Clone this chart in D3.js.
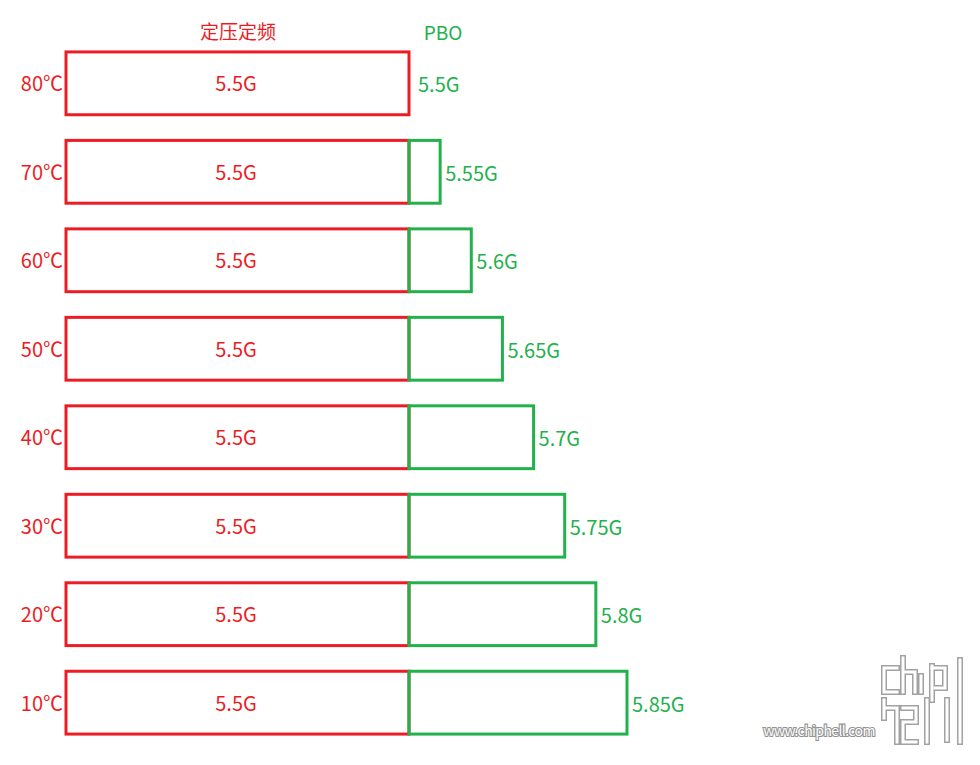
<!DOCTYPE html>
<html><head><meta charset="utf-8">
<script src="https://cdn.jsdelivr.net/npm/d3@7"></script>
<style>body{margin:0;background:#fff}svg{display:block}text{font-family:"Microsoft YaHei","Noto Sans CJK SC","Noto Sans",sans-serif}</style>
</head><body><svg id="c" width="980" height="765"></svg>
<script>
const temps = ["80℃","70℃","60℃","50℃","40℃","30℃","20℃","10℃"];
const fixedFreq = [5.5,5.5,5.5,5.5,5.5,5.5,5.5,5.5];
const pboFreq = [5.5,5.55,5.6,5.65,5.7,5.75,5.8,5.85];
const seriesNames = ["定压定频","PBO"];

const RED="#ED1C24", GREEN="#22B14C";
const svg=d3.select("#c");
const y=d3.scaleBand().domain(temps).range([36,750]).paddingInner(0.29).paddingOuter(0.18);
const xBase=d3.scaleLinear().domain([0,5.5]).range([66,409]);
const xExtra=d3.scaleLinear().domain([5.5,5.85]).range([409,627]);

svg.append("text").attr("x",238).attr("y",39).attr("text-anchor","middle").attr("fill",RED).attr("font-size",19).text(seriesNames[0]);
svg.append("text").attr("x",443).attr("y",40).attr("text-anchor","middle").attr("fill",GREEN).attr("font-size",19).text(seriesNames[1]);

const rows=svg.selectAll("g.row").data(temps.map((t,i)=>({t,f:fixedFreq[i],p:pboFreq[i]}))).join("g").attr("class","row");
rows.append("rect").attr("x",xBase(0)).attr("y",d=>y(d.t)).attr("width",d=>xBase(d.f)-xBase(0)).attr("height",y.bandwidth())
  .attr("fill","none").attr("stroke",RED).attr("stroke-width",3);
rows.filter(d=>d.p>d.f).append("rect").attr("x",d=>xExtra(d.f)).attr("y",d=>y(d.t)).attr("width",d=>xExtra(d.p)-xExtra(d.f)).attr("height",y.bandwidth())
  .attr("fill","none").attr("stroke",GREEN).attr("stroke-width",3);
rows.append("text").attr("x",236).attr("y",d=>y(d.t)+y.bandwidth()/2+8).attr("text-anchor","middle").attr("fill",RED).attr("font-size",20).text(d=>d.f+"G");
rows.append("text").attr("x",63).attr("y",d=>y(d.t)+y.bandwidth()/2+8).attr("text-anchor","end").attr("fill",RED).attr("font-size",20).text(d=>d.t);
rows.append("text").attr("x",d=>xExtra(d.p)+(d.p>d.f?5:9)).attr("y",d=>y(d.t)+y.bandwidth()/2+9).attr("fill",GREEN).attr("font-size",20).text(d=>d.p+"G");

// watermark
const wm=svg.append("g").attr("opacity",0.9);
wm.append("text").attr("x",819).attr("y",736).attr("text-anchor","middle").attr("font-size",14).attr("font-family","Verdana,DejaVu Sans,sans-serif")
  .attr("fill","#fff").attr("stroke","#888").attr("stroke-width",2.2).attr("paint-order","stroke").attr("letter-spacing",-0.6).text("www.chiphell.com");
const logo=wm.append("g").attr("fill","none").attr("stroke","#999").attr("stroke-width",6).attr("stroke-linecap","square");
const paths=["M897,668 L884,668 L884,692 L897,692","M903,658 L903,692 M903,672 L915,672 L915,692",
 "M921,676 L921,692","M932,666 L932,700","M932,668 L945,668 L945,688 L935,688",
 "M884,700 L884,718 M884,708 L897,708 L897,742","M903,708 L916,708 L916,722 L903,722 L903,742 L916,742",
 "M927,700 L927,742","M947,700 L947,740","M960,660 L960,742"];
paths.forEach(p=>logo.append("path").attr("d",p));
const logoIn=wm.append("g").attr("fill","none").attr("stroke","#fff").attr("stroke-width",3).attr("stroke-linecap","square");
paths.forEach(p=>logoIn.append("path").attr("d",p));
</script></body></html>
